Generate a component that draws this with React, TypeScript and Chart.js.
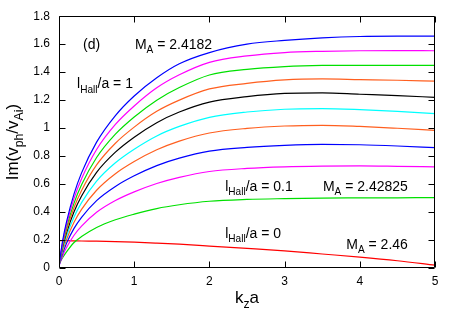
import React, { useEffect, useRef } from "react";
import { Chart, registerables } from "chart.js";

Chart.register(...registerables);

const kza = [0, 0.05, 0.1, 0.2, 0.3, 0.5, 0.75, 1, 1.3, 1.6, 2, 2.5, 3, 3.5, 4, 4.5, 5];

const hall1 = [0.02, 0.2, 0.33, 0.53, 0.68, 0.9, 1.09, 1.23, 1.36, 1.46, 1.54, 1.6, 1.627, 1.645, 1.655, 1.657, 1.657];
const hallB = [0.02, 0.187, 0.311, 0.498, 0.638, 0.847, 1.026, 1.158, 1.288, 1.381, 1.47, 1.516, 1.54, 1.549, 1.553, 1.554, 1.553];
const hallC = [0.02, 0.174, 0.29, 0.464, 0.595, 0.79, 0.957, 1.08, 1.2, 1.29, 1.38, 1.42, 1.44, 1.448, 1.449, 1.449, 1.449];
const hallD = [0.02, 0.162, 0.27, 0.433, 0.554, 0.737, 0.892, 1.007, 1.12, 1.2, 1.28, 1.32, 1.345, 1.352, 1.347, 1.342, 1.336];
const hallE = [0.02, 0.151, 0.251, 0.402, 0.515, 0.684, 0.828, 0.935, 1.039, 1.115, 1.186, 1.225, 1.248, 1.252, 1.242, 1.232, 1.22];
const hallF = [0.02, 0.137, 0.228, 0.365, 0.467, 0.621, 0.752, 0.849, 0.944, 1.012, 1.077, 1.115, 1.135, 1.139, 1.132, 1.12, 1.104];
const hallG = [0.02, 0.123, 0.204, 0.327, 0.419, 0.556, 0.674, 0.761, 0.845, 0.907, 0.965, 0.998, 1.015, 1.02, 1.012, 0.999, 0.984];
const hallH = [0.015, 0.106, 0.177, 0.283, 0.362, 0.482, 0.583, 0.659, 0.732, 0.785, 0.835, 0.862, 0.877, 0.884, 0.881, 0.872, 0.86];
const hallI = [0.015, 0.088, 0.146, 0.234, 0.299, 0.398, 0.482, 0.544, 0.604, 0.648, 0.69, 0.712, 0.723, 0.728, 0.73, 0.727, 0.723];
const hall01 = [0.03, 0.075, 0.115, 0.182, 0.225, 0.29, 0.345, 0.385, 0.425, 0.452, 0.477, 0.49, 0.496, 0.5, 0.501, 0.502, 0.503];
const hall0 = [0.195, 0.195, 0.195, 0.194, 0.193, 0.192, 0.189, 0.185, 0.178, 0.17, 0.157, 0.14, 0.122, 0.1, 0.078, 0.052, 0.02];

const seriesList = [hall1, hallB, hallC, hallD, hallE, hallF, hallG, hallH, hallI, hall01, hall0];
const seriesColors = ["#0000ff", "#ff00ff", "#00e000", "#ff5f1f", "#000000", "#00ffff", "#ff5f1f", "#0000ff", "#ff00ff", "#00e000", "#ff0000"];

const xTicks = [0, 1, 2, 3, 4, 5];
const yTicks = [0, 0.2, 0.4, 0.6, 0.8, 1, 1.2, 1.4, 1.6, 1.8];

type Part = { t: string; sub?: boolean };
const notes: { parts: Part[]; x: number; y: number }[] = [
  { parts: [{ t: "(d)" }], x: 0.32, y: 1.567 },
  { parts: [{ t: "M" }, { t: "A", sub: true }, { t: " = 2.4182" }], x: 1.01, y: 1.567 },
  { parts: [{ t: "l" }, { t: "Hall", sub: true }, { t: "/a = 1" }], x: 0.24, y: 1.284 },
  { parts: [{ t: "l" }, { t: "Hall", sub: true }, { t: "/a = 0.1" }], x: 2.21, y: 0.553 },
  { parts: [{ t: "M" }, { t: "A", sub: true }, { t: " = 2.42825" }], x: 3.51, y: 0.553 },
  { parts: [{ t: "l" }, { t: "Hall", sub: true }, { t: "/a = 0" }], x: 2.21, y: 0.213 },
  { parts: [{ t: "M" }, { t: "A", sub: true }, { t: " = 2.46" }], x: 3.82, y: 0.135 },
];

const FONT = '"Liberation Sans", Arial, Helvetica, sans-serif';

function richWidth(ctx: CanvasRenderingContext2D, parts: Part[], size: number) {
  let w = 0;
  for (const p of parts) {
    ctx.font = `${p.sub ? size * 0.72 : size}px ${FONT}`;
    w += ctx.measureText(p.t).width;
  }
  return w;
}

function drawRich(ctx: CanvasRenderingContext2D, parts: Part[], x: number, y: number, size: number) {
  let cx = x;
  for (const p of parts) {
    const s = p.sub ? size * 0.72 : size;
    ctx.font = `${s}px ${FONT}`;
    ctx.fillText(p.t, cx, y + (p.sub ? size * 0.3 : 0));
    cx += ctx.measureText(p.t).width;
  }
}

const overlay = {
  id: "overlay",
  afterDraw(chart: any) {
    const { ctx, chartArea: a, scales } = chart;
    const xs = scales.x;
    const ys = scales.y;
    ctx.save();
    ctx.strokeStyle = "#000";
    ctx.lineWidth = 1;
    const L = Math.round(a.left) + 0.5;
    const R = Math.round(a.right) - 0.5;
    const T = Math.round(a.top) + 0.5;
    const B = Math.round(a.bottom) - 0.5;
    ctx.beginPath();
    ctx.rect(L, T, R - L, B - T);
    const tl = 6;
    for (const v of xTicks) {
      const px = Math.round(xs.getPixelForValue(v)) + 0.5;
      ctx.moveTo(px, B);
      ctx.lineTo(px, B - tl);
      ctx.moveTo(px, T);
      ctx.lineTo(px, T + tl);
    }
    for (const v of yTicks) {
      const py = Math.round(ys.getPixelForValue(v)) + 0.5;
      ctx.moveTo(L, py);
      ctx.lineTo(L + tl, py);
      ctx.moveTo(R, py);
      ctx.lineTo(R - tl, py);
    }
    ctx.stroke();

    ctx.fillStyle = "#000";
    ctx.textBaseline = "alphabetic";
    ctx.textAlign = "left";
    for (const n of notes) {
      drawRich(ctx, n.parts, xs.getPixelForValue(n.x), ys.getPixelForValue(n.y), 14);
    }

    const xt: Part[] = [{ t: "k" }, { t: "z", sub: true }, { t: "a" }];
    const xw = richWidth(ctx, xt, 17);
    drawRich(ctx, xt, (a.left + a.right) / 2 - xw / 2, 303, 17);

    const yt: Part[] = [{ t: "Im(v" }, { t: "ph", sub: true }, { t: "/v" }, { t: "Ai", sub: true }, { t: ")" }];
    const yw = richWidth(ctx, yt, 17);
    ctx.translate(18, (a.top + a.bottom) / 2);
    ctx.rotate(-Math.PI / 2);
    drawRich(ctx, yt, -yw / 2, 0, 17);
    ctx.restore();
  },
};

export default function App() {
  const ref = useRef<HTMLCanvasElement | null>(null);
  useEffect(() => {
    if (!ref.current) return;
    const chart = new Chart(ref.current, {
      type: "line",
      data: {
        datasets: seriesList.map((s, i) => ({
          data: kza.map((x, j) => ({ x, y: s[j] })),
          borderColor: seriesColors[i],
          borderWidth: 1.2,
          pointRadius: 0,
          fill: false,
          cubicInterpolationMode: "monotone" as const,
        })),
      },
      options: {
        animation: false,
        responsive: true,
        maintainAspectRatio: false,
        layout: { padding: { top: 14, right: 22, left: 0, bottom: 0 } },
        plugins: { legend: { display: false }, tooltip: { enabled: false } },
        scales: {
          x: {
            type: "linear",
            min: 0,
            max: 5,
            afterFit: (s: any) => { s.height = 51; },
            afterBuildTicks: (s: any) => { s.ticks = xTicks.map((v) => ({ value: v })); },
            grid: { display: false, drawTicks: false },
            border: { display: false },
            ticks: { color: "#000", font: { size: 12, family: FONT }, padding: 6, autoSkip: false, maxRotation: 0 },
          },
          y: {
            type: "linear",
            min: 0,
            max: 1.8,
            afterFit: (s: any) => { s.width = 59; },
            afterBuildTicks: (s: any) => { s.ticks = yTicks.map((v) => ({ value: v })); },
            grid: { display: false, drawTicks: false },
            border: { display: false },
            ticks: {
              color: "#000",
              font: { size: 12, family: FONT },
              padding: 9,
              autoSkip: false,
              callback: (v: any) => String(+Number(v).toFixed(1)),
            },
          },
        },
      },
      plugins: [overlay],
    });
    return () => chart.destroy();
  }, []);
  return (
    <div style={{ position: "absolute", left: 0, top: 0, width: 457, height: 319, background: "#fff" }}>
      <canvas ref={ref} />
    </div>
  );
}
